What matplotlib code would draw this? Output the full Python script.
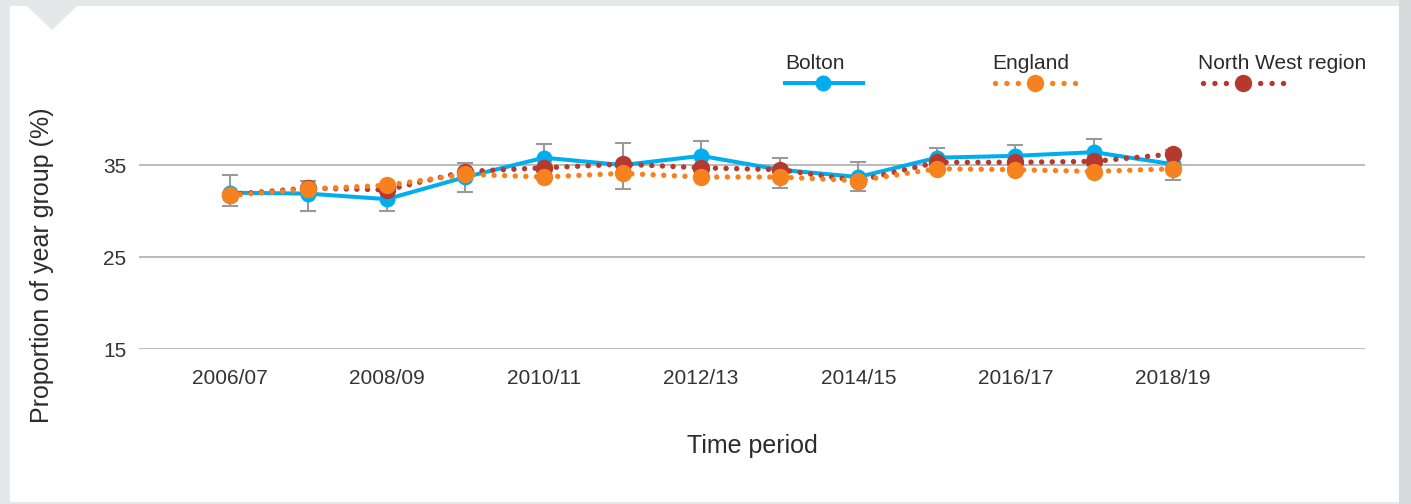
import matplotlib
matplotlib.use("Agg")
import matplotlib.pyplot as plt
from matplotlib.lines import Line2D
from matplotlib.patches import Rectangle, Polygon
import numpy as np

# -----------------------------------------------------------------------------
# Datos
# -----------------------------------------------------------------------------
periodos = ["2006/07", "2007/08", "2008/09", "2009/10", "2010/11", "2011/12", "2012/13",
            "2013/14", "2014/15", "2015/16", "2016/17", "2017/18", "2018/19"]

bolton    = [32.0, 31.9, 31.3, 33.7, 35.8, 35.0, 36.0, 34.5, 33.7, 35.8, 36.0, 36.4, 35.1]
bolton_lo = [30.6, 30.0, 30.0, 32.1, 34.3, 32.4, 34.4, 32.5, 32.2, 34.6, 34.7, 35.0, 33.4]
bolton_hi = [33.9, 33.3, 32.7, 35.2, 37.3, 37.4, 37.6, 35.8, 35.3, 36.9, 37.2, 37.8, 36.6]
england   = [31.7, 32.4, 32.8, 34.0, 33.7, 34.1, 33.7, 33.7, 33.3, 34.6, 34.5, 34.3, 34.6]
north_west = [31.8, 32.5, 32.3, 34.3, 34.7, 35.1, 34.7, 34.5, 33.3, 35.3, 35.3, 35.4, 36.2]

y_ticks = [15, 25, 35]

# -----------------------------------------------------------------------------
# Estilo
# -----------------------------------------------------------------------------
C_BOL, C_ENG, C_NW = "#00AEEF", "#F5821F", "#B5392F"
C_ERR, C_GRID, C_TXT = "#9A9A9A", "#A8A8A8", "#2B2B2B"
BG_OUT = "#E6E7E8"
W, H = 1411, 504

plt.rcParams["font.family"] = ["Liberation Sans", "DejaVu Sans"]

DOT_LW = 3.9
DOT = (0, (0.01, 1.95))
DOT_LEG = (0, (0.01, 2.1))

fig = plt.figure(figsize=(W / 100, H / 100), dpi=100, facecolor=BG_OUT)

# panel blanco y muesca
fig.patches.append(Rectangle((10 / W, 1 - 502 / H), 1389 / W, 496 / H,
                             transform=fig.transFigure, facecolor="white", edgecolor="none", zorder=-3))
fig.patches.append(Rectangle((1399 / W, 0), 12 / W, 1, transform=fig.transFigure,
                             facecolor="#D9DADC", edgecolor="none", zorder=-3))
fig.patches.append(Polygon([(27 / W, 1 - 6 / H), (77 / W, 1 - 6 / H), (52 / W, 1 - 30 / H)],
                           closed=True, transform=fig.transFigure,
                           facecolor=BG_OUT, edgecolor="none", zorder=-2))

ax = fig.add_axes([139 / W, 1 - 349.3 / H, 1226 / W, 230.3 / H])
ax.set_facecolor("none")

x = np.arange(len(periodos))
b = np.array(bolton)
yerr = [b - np.array(bolton_lo), np.array(bolton_hi) - b]

ax.errorbar(x, b, yerr=yerr, fmt="none", ecolor=C_ERR, elinewidth=1.5,
            capsize=5.5, capthick=1.5, zorder=2)
ax.plot(x, bolton, color=C_BOL, lw=2.9, marker="o", ms=11.5, mec="none",
        solid_joinstyle="round", zorder=3)
ax.plot(x, north_west, color=C_NW, lw=DOT_LW, ls=DOT, dash_capstyle="round",
        marker="o", ms=12.5, mec="none", zorder=4)
ax.plot(x, england, color=C_ENG, lw=DOT_LW, ls=DOT, dash_capstyle="round",
        marker="o", ms=12.5, mec="none", zorder=5)

ax.set_xlim(-1.155, 14.45)
ax.set_ylim(15, 40)
ax.set_yticks(y_ticks)
ax.set_xticks(x[::2])
ax.set_xticklabels(periodos[::2])
ax.grid(axis="y", color=C_GRID, lw=1.1)
ax.set_axisbelow(True)
for s in ax.spines.values():
    s.set_visible(False)
ax.tick_params(axis="both", length=0, labelsize=15, labelcolor="#333333")
ax.tick_params(axis="x", pad=14)
ax.tick_params(axis="y", pad=9)

fig.text(42 / W, 1 - 265 / H, "Proportion of year group (%)", rotation=90,
         ha="center", va="center", fontsize=18, color=C_TXT)
fig.text(752 / W, 1 - 446 / H, "Time period", ha="center", va="center",
         fontsize=18, color=C_TXT)

# leyenda manual: texto arriba, muestra de línea debajo
leyenda = [
    ("Bolton", C_BOL, "-", 785, 863, 823, 785),
    ("England", C_ENG, DOT_LEG, 995, 1077, 1035, 992),
    ("North West region", C_NW, DOT_LEG, 1203, 1285, 1243, 1198),
]
y_ln = 1 - 83.3 / H
for lbl, col, ls, x0, x1, xm, tx in leyenda:
    fig.text(tx / W, 1 - 69 / H, lbl, ha="left", va="baseline", fontsize=15, color=C_TXT)
    lw = 2.9 if ls == "-" else DOT_LW
    fig.add_artist(Line2D([x0 / W, x1 / W], [y_ln, y_ln], transform=fig.transFigure,
                          color=col, lw=lw, ls=ls, dash_capstyle="round"))
    fig.add_artist(Line2D([xm / W], [y_ln], transform=fig.transFigure, color=col,
                          marker="o", ms=11.5 if ls == "-" else 12.5, mec="none", ls="none"))

fig.savefig("out.png", dpi=100, facecolor=fig.get_facecolor())
